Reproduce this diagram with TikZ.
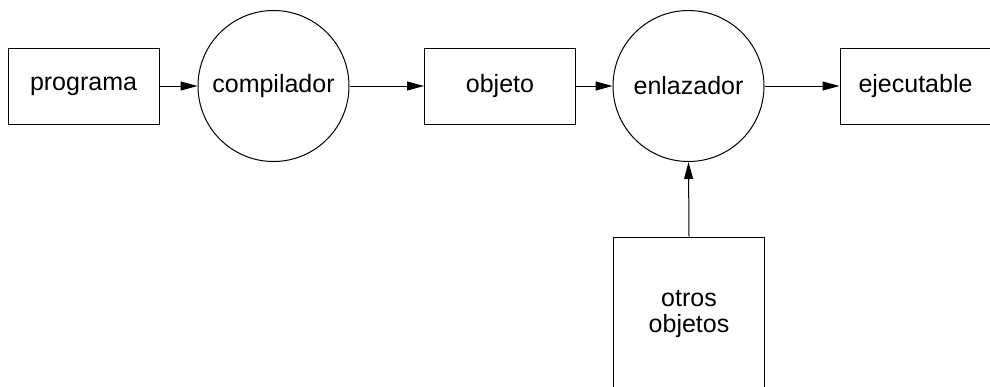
\documentclass[tikz,border=0pt]{standalone}
\usepackage{fontspec}
\setmainfont{Liberation Sans}
\usetikzlibrary{arrows.meta}
\begin{document}
\begin{tikzpicture}[x=1pt,y=-1pt,
  every node/.style={font=\fontsize{25}{26}\selectfont, line width=1pt, inner sep=0pt},
  boxnode/.style={draw, rectangle, minimum width=151pt, minimum height=76pt},
  procnode/.style={draw, circle, minimum size=151pt},
  conn/.style={line width=1pt, -{Triangle[length=17pt,width=9pt]}}]
\useasboundingbox (0,0) rectangle (990,386);
\node[boxnode] (prog) at (83.5,86) {programa};
\node[procnode] (comp) at (273.5,86) {compilador};
\node[boxnode] (obj) at (500,86) {objeto};
\node[procnode] (enl) at (688.5,86) {enlazador};
\node[boxnode] (ejec) at (915.5,86) {ejecutable};
\node[boxnode, minimum height=154pt, align=center] (otros) at (689,314) {otros\\objetos};
\draw[conn] (prog) -- (comp);
\draw[conn] (comp) -- (obj);
\draw[conn] (obj) -- (enl);
\draw[conn] (enl) -- (ejec);
\draw[conn] (otros.north) -- (enl.south);
\end{tikzpicture}
\end{document}
